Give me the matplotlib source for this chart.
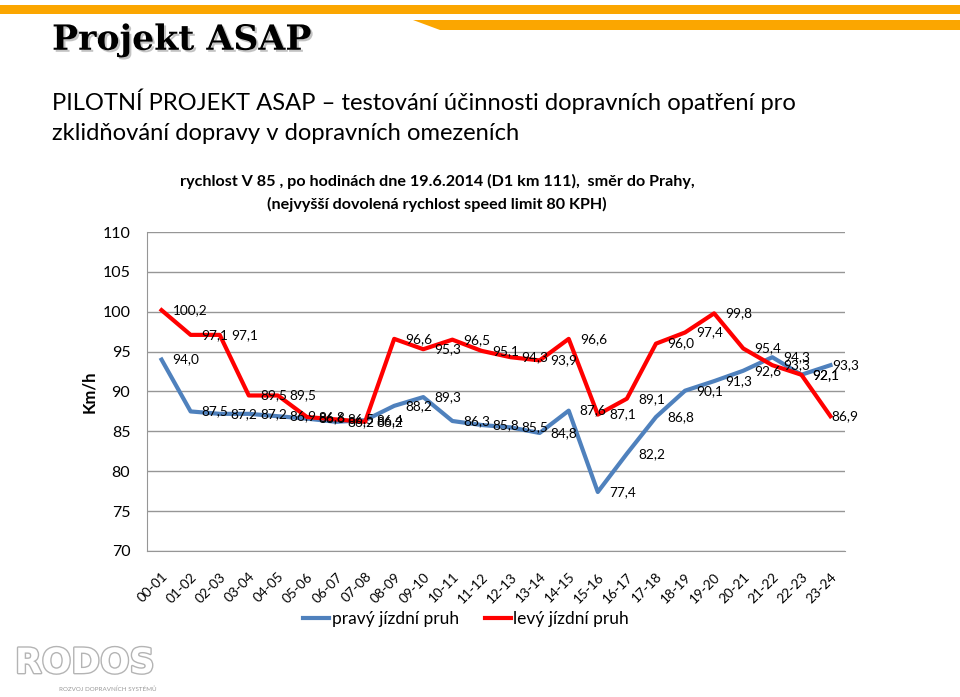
import matplotlib
matplotlib.use("Agg")
import matplotlib.pyplot as plt
import matplotlib.patheffects as pe
from matplotlib.patches import Polygon, Rectangle

# Data
hours = ["00-01", "01-02", "02-03", "03-04", "04-05", "05-06", "06-07", "07-08",
         "08-09", "09-10", "10-11", "11-12", "12-13", "13-14", "14-15", "15-16",
         "16-17", "17-18", "18-19", "19-20", "20-21", "21-22", "22-23", "23-24"]
pravy = [94.0, 87.5, 87.2, 87.2, 86.9, 86.6, 86.2, 86.4, 88.2, 89.3, 86.3, 85.8,
         85.5, 84.8, 87.6, 77.4, 82.2, 86.8, 90.1, 91.3, 92.6, 94.3, 92.1, 93.3]
levy = [100.2, 97.1, 97.1, 89.5, 89.5, 86.8, 86.5, 86.2, 96.6, 95.3, 96.5, 95.1,
        94.3, 93.9, 96.6, 87.1, 89.1, 96.0, 97.4, 99.8, 95.4, 93.3, 92.1, 86.9]
y_ticks = [70, 75, 80, 85, 90, 95, 100, 105, 110]

BLUE = "#4F81BD"
RED = "#FF0000"
ORANGE = "#FBA600"
FONT = "Lato"

fig = plt.figure(figsize=(9.6, 6.97), dpi=100)

# --- slide decoration ---
fig.patches.append(Rectangle((0, 1 - 14 / 697), 1, 9 / 697, transform=fig.transFigure,
                             facecolor=ORANGE, edgecolor="none"))
fig.patches.append(Polygon([(413 / 960, 1 - 20 / 697), (1, 1 - 20 / 697),
                            (1, 1 - 30 / 697), (440 / 960, 1 - 30 / 697)],
                           transform=fig.transFigure, facecolor=ORANGE, edgecolor="none"))

fig.text(52 / 960, 1 - 40 / 697, "Projekt ASAP", fontsize=25, fontweight="bold",
         family="DejaVu Serif", va="center", ha="left",
         path_effects=[pe.SimplePatchShadow(offset=(1.5, -1.5), shadow_rgbFace="#888888", alpha=0.5),
                       pe.Normal()])
fig.text(52 / 960, 1 - 101 / 697,
         "PILOTNÍ PROJEKT ASAP – testování účinnosti dopravních opatření pro",
         fontsize=17.1, family=FONT, va="center", ha="left")
fig.text(52 / 960, 1 - 133 / 697, "zklidňování dopravy v dopravních omezeních",
         fontsize=17.1, family=FONT, va="center", ha="left")

# chart title
fig.text(437 / 960, 1 - 181 / 697,
         "rychlost V 85 , po hodinách dne 19.6.2014 (D1 km 111),  směr do Prahy,",
         fontsize=11.6, fontweight="bold", family=FONT, ha="center", va="center")
fig.text(437 / 960, 1 - 204 / 697, "(nejvyšší dovolená rychlost speed limit 80 KPH)",
         fontsize=11.6, fontweight="bold", family=FONT, ha="center", va="center")

# --- chart ---
ax = fig.add_axes([147 / 960, 1 - 551 / 697, (845 - 147) / 960, (551 - 232) / 697])
x = list(range(len(hours)))
ax.plot(x, pravy, color=BLUE, lw=3, solid_joinstyle="round", label="pravý jízdní pruh", zorder=3)
ax.plot(x, levy, color=RED, lw=3, solid_joinstyle="round", label="levý jízdní pruh", zorder=4)

last = len(hours) - 1
for series in (pravy, levy):
    for xi, v in zip(x, series):
        dx = 1 if xi == last else 8
        ax.annotate(f"{v:.1f}".replace(".", ","), (xi, v), xytext=(dx, 0),
                    textcoords="offset points", ha="left", va="center",
                    fontsize=9.8, family=FONT, zorder=5)

ax.set_xlim(-0.5, len(hours) - 0.5)
ax.set_ylim(70, 110)
ax.set_yticks(y_ticks)
ax.set_yticklabels([str(t) for t in y_ticks], family=FONT, fontsize=11.5)
ax.set_xticks(x)
ax.set_xticklabels(hours, rotation=45, ha="right", va="top", rotation_mode="anchor",
                   family=FONT, fontsize=9.8)
ax.tick_params(axis="y", length=0, pad=12)
ax.tick_params(axis="x", length=0, pad=14)
ax.grid(axis="y", color="#969696", lw=1)
ax.set_axisbelow(True)
for side in ["top", "right"]:
    ax.spines[side].set_visible(False)
ax.spines["left"].set_color("#969696")
ax.spines["bottom"].set_color("#969696")
ax.set_ylabel("Km/h", family=FONT, fontsize=12, fontweight="bold")
ax.yaxis.set_label_coords((97 - 147) / 698, 0.5)

fig.legend(loc="center", bbox_to_anchor=(466 / 960, 1 - 619 / 697), ncol=2, frameon=False,
           prop={"family": FONT, "size": 12.5}, handlelength=1.5, handletextpad=0.15,
           columnspacing=1.5)

# RODOS logo (approximate)
fig.text(85 / 960, 1 - 663 / 697, "RODOS", fontsize=25, family="DejaVu Sans", fontweight="bold",
         ha="center", va="center", color="white",
         path_effects=[pe.withStroke(linewidth=2, foreground="#B4B4B4")])
fig.text(108 / 960, 1 - 689 / 697, "ROZVOJ DOPRAVNÍCH SYSTÉMŮ", fontsize=4.5, family=FONT,
         ha="center", va="center", color="#999999")

fig.savefig("out.png", dpi=100)
